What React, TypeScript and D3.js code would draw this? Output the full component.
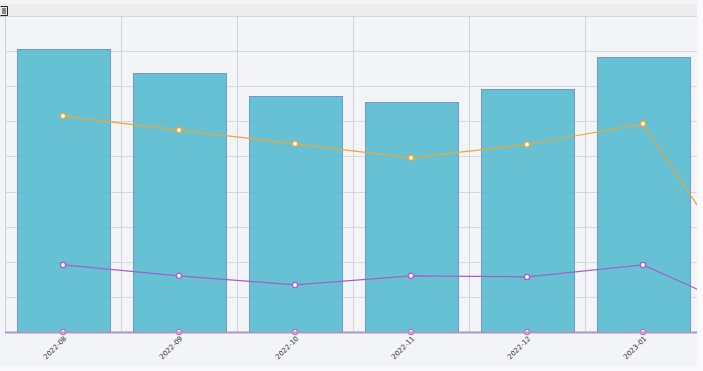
import * as d3 from "d3";
import React, { useEffect, useRef } from "react";

// data (last month is mostly cut off on the right)
const months = ["2022-08", "2022-09", "2022-10", "2022-11", "2022-12", "2023-01", "2023-02"];
const barValues = [806, 738, 672, 655, 692, 783, 700];
const orangeValues = [615, 575, 536, 496, 534, 593, 97];
const purpleValues = [191, 160, 134, 160, 157, 191, 43];
const zeroValues = [0, 0, 0, 0, 0, 0, 0];
const yTicks = [0, 100, 200, 300, 400, 500, 600, 700, 800, 900];

const App = () => {
  const chartRef = useRef<SVGSVGElement | null>(null);

  useEffect(() => {
    if (chartRef.current) drawChart();
    return () => {
      d3.select(chartRef.current).selectAll("*").remove();
    };
  }, []);

  const drawChart = () => {
    const width = 697;
    const height = 367;
    const plot = { left: 5, right: 697, top: 16, bottom: 332 };

    const svg = d3.select(chartRef.current);

    svg.append("rect").attr("width", width).attr("height", height).attr("fill", "#f3f4f8");

    // toolbar strip at the top
    svg.append("rect").attr("x", 0).attr("y", 4).attr("width", width).attr("height", 12).attr("fill", "#ececec");
    svg.append("line").attr("x1", 0).attr("x2", width).attr("y1", 16.5).attr("y2", 16.5).attr("stroke", "#cfcfd3");
    const icon = svg.append("g").attr("stroke", "#222").attr("fill", "none");
    icon.append("path").attr("d", "M0.5,6.5 H7.5 V15.5 H0.5").attr("stroke-width", 1);
    icon.append("line").attr("x1", 3).attr("x2", 3).attr("y1", 8).attr("y2", 14);
    icon.append("line").attr("x1", 5).attr("x2", 5).attr("y1", 8).attr("y2", 14);

    svg.append("defs").append("clipPath").attr("id", "plotClip")
      .append("rect").attr("x", plot.left).attr("y", plot.top - 4)
      .attr("width", plot.right - plot.left).attr("height", plot.bottom - plot.top + 10);

    const xScale = d3.scaleBand<string>()
      .domain(months)
      .range([plot.left, plot.left + 116 * months.length])
      .paddingInner(0.2)
      .paddingOuter(0.1);
    const step = xScale.step();
    const cx = (m: string) => (xScale(m) as number) + xScale.bandwidth() / 2;

    const yScale = d3.scaleLinear().domain([0, 900]).range([plot.bottom, plot.top]);

    const chart = svg.append("g").attr("clip-path", "url(#plotClip)");

    // grid
    chart.selectAll(".hgrid").data(yTicks.slice(1)).enter().append("line")
      .attr("x1", plot.left).attr("x2", plot.right)
      .attr("y1", (d) => Math.round(yScale(d)) + 0.5).attr("y2", (d) => Math.round(yScale(d)) + 0.5)
      .attr("stroke", "#d6d6dc");
    chart.selectAll(".vgrid").data(months.slice(1)).enter().append("line")
      .attr("x1", (d) => Math.round((xScale(d) as number) - step * 0.2 * 0.5) + 0.5)
      .attr("x2", (d) => Math.round((xScale(d) as number) - step * 0.2 * 0.5) + 0.5)
      .attr("y1", plot.top).attr("y2", plot.bottom)
      .attr("stroke", "#d2d2d8");

    // bars
    chart.selectAll(".bar").data(months).enter().append("rect")
      .attr("x", (d) => Math.round(xScale(d) as number) + 0.5)
      .attr("y", (d, i) => Math.round(yScale(barValues[i])) + 0.5)
      .attr("width", Math.round(xScale.bandwidth()))
      .attr("height", (d, i) => plot.bottom - Math.round(yScale(barValues[i])))
      .attr("fill", "#56bbcf")
      .attr("fill-opacity", 0.9)
      .attr("stroke", "#6f98da")
      .attr("stroke-width", 1);

    // left border and bottom axis
    svg.append("line").attr("x1", plot.left + 0.5).attr("x2", plot.left + 0.5)
      .attr("y1", plot.top).attr("y2", plot.bottom).attr("stroke", "#cfcfd5");
    svg.append("line").attr("x1", plot.left).attr("x2", plot.right)
      .attr("y1", plot.bottom + 0.5).attr("y2", plot.bottom + 0.5)
      .attr("stroke", "#a898c4").attr("stroke-width", 2);

    const series = [
      { values: orangeValues, color: "#f0a630" },
      { values: purpleValues, color: "#a45fc8" },
      { values: zeroValues, color: "#c46cc4" },
    ];

    series.forEach((s) => {
      const line = d3.line<string>()
        .x((d) => cx(d))
        .y((d, i) => yScale(s.values[i]));
      if (s.values !== zeroValues) {
        chart.append("path").datum(months).attr("d", line)
          .attr("fill", "none").attr("stroke", s.color).attr("stroke-width", 1.2);
      }
      chart.selectAll(null).data(months).enter().append("circle")
        .attr("cx", (d) => cx(d))
        .attr("cy", (d, i) => yScale(s.values[i]))
        .attr("r", 2.6)
        .attr("fill", "#fff")
        .attr("stroke", s.color)
        .attr("stroke-width", 1.3);
    });

    // x labels
    svg.append("g").selectAll("text").data(months.filter((m) => cx(m) < plot.right)).enter().append("text")
      .attr("transform", (d) => `translate(${cx(d) + 4},${plot.bottom + 7}) rotate(-45)`)
      .attr("text-anchor", "end")
      .attr("font-family", "DejaVu Sans, sans-serif")
      .attr("font-size", 7)
      .attr("fill", "#333")
      .text((d) => d);
  };

  return (
    <div>
      <style>{`body{margin:0;background:#fafafc}`}</style>
      <svg ref={chartRef} width={697} height={367} style={{ display: "block" }} />
    </div>
  );
};

export default App;
